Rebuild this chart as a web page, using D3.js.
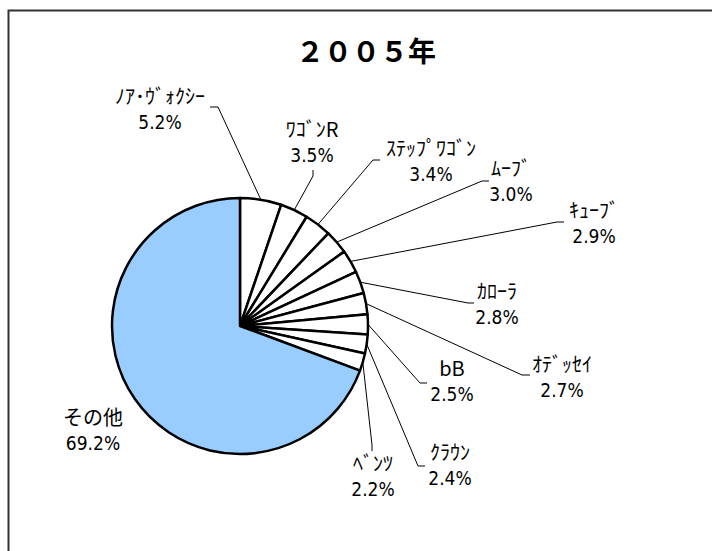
<!DOCTYPE html>
<html>
<head>
<meta charset="utf-8">
<script src="https://cdn.jsdelivr.net/npm/d3@7"></script>
<style>
  body { margin: 0; background: #fff; }
  text { font-family: "Noto Sans CJK JP", sans-serif; fill: #000; }
</style>
</head>
<body>
<div id="chart"></div>
<script>
// data
const title = "２００５年"
const names = ["ﾉｱ･ｳﾞｫｸｼｰ", "ﾜｺﾞﾝR", "ｽﾃｯﾌﾟﾜｺﾞﾝ", "ﾑｰﾌﾞ", "ｷｭｰﾌﾞ", "ｶﾛｰﾗ", "ｵﾃﾞｯｾｲ", "bB", "ｸﾗｳﾝ", "ﾍﾞﾝﾂ", "その他"]
const shares = [5.2, 3.5, 3.4, 3.0, 2.9, 2.8, 2.7, 2.5, 2.4, 2.2, 69.2]
const fills = ["#fff", "#fff", "#fff", "#fff", "#fff", "#fff", "#fff", "#fff", "#fff", "#fff", "#99ccff"]

// label layout: centre of the name line, elbow of leader, end of short tick
const labelAt = [[160, 97], [312, 130], [431, 149], [511, 169], [594, 211], [497, 292], [562, 365], [452, 369], [450, 453], [373, 464], [93, 418]]
const elbows = [[218, 107], [313, 176], [373, 160], [482, 181], [557, 222], [468, 303], [522, 375], [420, 383], [418, 466], [372, 445], null]
const tickEnds = [[210, 107], [313, 170], [380, 160], [489, 181], [564, 222], [474, 303], [530, 375], [427, 383], [425, 466], [372, 451], null]

const W = 712, H = 551
const cx = 240, cy = 326, r = 128

const svg = d3.select("#chart").append("svg")
    .attr("width", W)
    .attr("height", H)

// chart frame (runs off the right and bottom edges)
svg.append("rect")
    .attr("x", 8.5).attr("y", 10.5)
    .attr("width", W + 10).attr("height", H + 10)
    .attr("fill", "none")
    .attr("stroke", "#333")
    .attr("stroke-width", 2)

svg.append("text")
    .attr("x", 366).attr("y", 62)
    .attr("text-anchor", "middle")
    .style("font-size", "28px")
    .style("font-weight", "bold")
    .text(title)

const data = names.map(function (n, i) { return { name: n, value: shares[i], i: i } })

const pie = d3.pie().sort(null).value(function (d) { return d.value })
const arcs = pie(data)
const arc = d3.arc().innerRadius(0).outerRadius(r)
const edge = d3.arc().innerRadius(r).outerRadius(r)

const g = svg.append("g").attr("transform", `translate(${cx},${cy})`)

g.selectAll("path.slice")
    .data(arcs)
    .join("path")
    .attr("class", "slice")
    .attr("d", arc)
    .attr("fill", function (d) { return fills[d.data.i] })
    .attr("stroke", "#000")
    .attr("stroke-width", 2.5)
    .attr("stroke-linejoin", "round")

// leader lines: slice edge -> elbow -> short tick
arcs.forEach(function (d) {
    const i = d.data.i
    if (!elbows[i]) return
    const p = edge.centroid(d)
    svg.append("polyline")
        .attr("points", [[cx + p[0], cy + p[1]], elbows[i], tickEnds[i]].map(function (q) { return q.join(",") }).join(" "))
        .attr("fill", "none")
        .attr("stroke", "#000")
        .attr("stroke-width", 1)
})

// labels
const lab = svg.selectAll("g.lab")
    .data(data)
    .join("g")
    .attr("class", "lab")
    .attr("transform", function (d) { return `translate(${labelAt[d.i][0]},${labelAt[d.i][1]})` })

lab.append("text")
    .attr("y", 7)
    .attr("text-anchor", "middle")
    .style("font-size", "20px")
    .text(function (d) { return d.name })

lab.append("text")
    .attr("y", 32)
    .attr("text-anchor", "middle")
    .style("font-family", "'DejaVu Sans Condensed', 'DejaVu Sans', sans-serif")
    .style("font-size", "19px")
    .text(function (d) { return d.value.toFixed(1) + "%" })
</script>
</body>
</html>
